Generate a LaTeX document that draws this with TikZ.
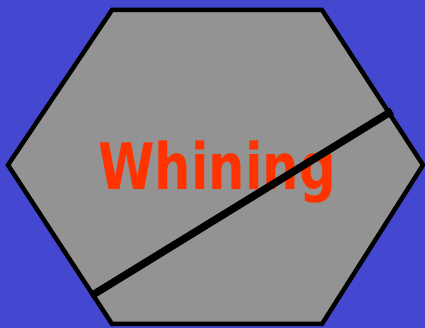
\documentclass[tikz,border=0pt]{standalone}
\usepackage{fontspec}
\newfontfamily\signfont{DejaVu Sans}
\usetikzlibrary{positioning}
\definecolor{bgblue}{RGB}{68,72,208}
\definecolor{signgray}{RGB}{147,147,147}
\definecolor{signred}{RGB}{255,51,0}

\begin{document}
\begin{tikzpicture}[
        x=1pt, y=1pt,
        hexface/.style={draw=black, fill=signgray, line width=4.5pt, line join=miter},
        label/.style={text=signred, font=\signfont\bfseries\fontsize{64}{64}\selectfont, inner sep=0pt},
        strike/.style={draw=black, line width=7.5pt}
    ]
%
    % Background
    \fill[bgblue] (0,0) rectangle (425,328);
    \useasboundingbox (0,0) rectangle (425,328);
%
    % Hexagon corners
    \coordinate (tl) at (112,318);
    \coordinate (tr) at (322,318);
    \coordinate (r) at (423,163);
    \coordinate (br) at (322,4);
    \coordinate (bl) at (112,4);
    \coordinate (l) at (8,163);
    \draw[hexface] (tl) -- (tr) -- (r) -- (br) -- (bl) -- (l) -- cycle;
%
    % Text
    \node[label, xscale=0.8, anchor=base] (word) at (217,138) {Whining};
%
    % Strike line
    \coordinate (sa) at (91,32);
    \coordinate (sb) at (392,217);
    \draw[strike] (sa) -- (sb);
%
\end{tikzpicture}
\end{document}
